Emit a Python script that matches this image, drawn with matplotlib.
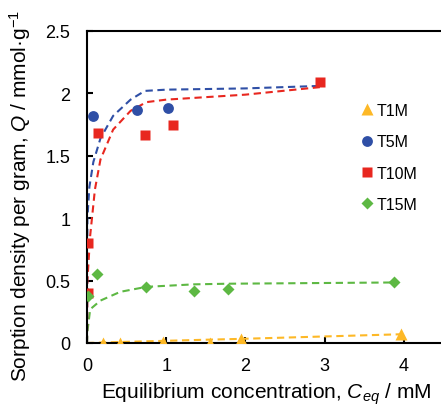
import matplotlib
matplotlib.use("Agg")
import matplotlib.pyplot as plt

plt.rcParams['font.family'] = ['Liberation Sans', 'DejaVu Sans']
plt.rcParams['mathtext.fontset'] = 'custom'
plt.rcParams['mathtext.rm'] = 'Liberation Sans'
plt.rcParams['mathtext.it'] = 'Liberation Sans:italic'

# ---- data ----
t1_x = [0.2, 0.42, 0.96, 1.55, 1.94, 3.96]
t1_q = [0.0, 0.0, 0.01, 0.0, 0.03, 0.07]
t5_x = [0.07, 0.63, 1.02]
t5_q = [1.82, 1.87, 1.885]
t10_x = [0.01, 0.01, 0.135, 0.73, 1.08, 2.94]
t10_q = [0.80, 0.40, 1.68, 1.67, 1.75, 2.09]
t15_x = [0.01, 0.12, 0.75, 1.35, 1.78, 3.88]
t15_q = [0.38, 0.555, 0.445, 0.42, 0.435, 0.485]

fit1_x = [0, 0.2, 0.42, 0.96, 1.55, 1.94, 3.96]
fit1_q = [0, 0.004, 0.008, 0.017, 0.027, 0.033, 0.07]
fit5_x = [0, 0.005, 0.03, 0.08, 0.17, 0.33, 0.55, 0.73, 1.0, 2.0, 2.94]
fit5_q = [0, 1.0, 1.25, 1.45, 1.64, 1.82, 1.95, 2.02, 2.03, 2.04, 2.06]
fit10_x = [0, 0.005, 0.04, 0.1, 0.17, 0.33, 0.55, 0.75, 1.0, 2.0, 2.94]
fit10_q = [0, 0.5, 0.86, 1.23, 1.47, 1.71, 1.86, 1.93, 1.95, 1.99, 2.05]
fit15_x = [0, 0.005, 0.04, 0.17, 0.42, 0.75, 1.35, 1.78, 3.88]
fit15_q = [0, 0.09, 0.27, 0.34, 0.41, 0.45, 0.47, 0.475, 0.485]

x_ticks = [0, 1, 2, 3, 4]
y_ticks = [0, 0.5, 1, 1.5, 2, 2.5]
y_ticklabels = ['0', '0.5', '1', '1.5', '2', '2.5']

c_y = '#FDB826'
c_b = '#2F4FA6'
c_r = '#E8271F'
c_g = '#5DB843'

W, H = 441, 406
fig = plt.figure(figsize=(W / 100, H / 100), dpi=100)
ax_w = 4.5 * 79.2
ax = fig.add_axes([87 / W, 62 / H, ax_w / W, 312 / H])

dash = (3.5, 2.2)
ax.plot(fit1_x, fit1_q, color=c_y, lw=1.5, dashes=dash, zorder=2)
ax.plot(fit15_x, fit15_q, color=c_g, lw=1.5, dashes=dash, zorder=2)
ax.plot(fit5_x, fit5_q, color=c_b, lw=1.5, dashes=dash, zorder=2)
ax.plot(fit10_x, fit10_q, color=c_r, lw=1.5, dashes=dash, zorder=2)

ax.plot(t1_x, t1_q, ls='none', marker='^', ms=9, color=c_y, mec='none', label='T1M', zorder=3)
ax.plot(t5_x, t5_q, ls='none', marker='o', ms=7.8, color=c_b, mec='none', label='T5M', zorder=3)
ax.plot(t10_x, t10_q, ls='none', marker='s', ms=7.6, color=c_r, mec='none', label='T10M', zorder=3)
ax.plot(t15_x, t15_q, ls='none', marker='D', ms=6.2, color=c_g, mec='none', label='T15M', zorder=3)

ax.set_xlim(0, 4.5)
ax.set_ylim(0, 2.5)
ax.set_xticks(x_ticks)
ax.set_xticklabels([str(v) for v in x_ticks])
ax.set_yticks(y_ticks)
ax.set_yticklabels(y_ticklabels)
ax.tick_params(direction='in', length=4, width=1.5, labelsize=13, colors='black')
ax.tick_params(axis='y', pad=12)
ax.tick_params(axis='x', pad=10)
for s in ['left', 'bottom', 'top', 'right']:
    ax.spines[s].set_linewidth(1.5)
    ax.spines[s].set_color('black')

fig.text(20 / W, 1 - 196 / H, r'Sorption density per gram, $\mathit{Q}$ / mmol·g$^{-1}$',
         rotation=90, ha='center', va='center', fontsize=15)
fig.text(266 / W, 7 / H, r'Equilibrium concentration, $\mathit{C}_{\mathit{eq}}$ / mM',
         ha='center', va='baseline', fontsize=15)

fig.legend(loc='upper left', bbox_to_anchor=(361 / W, 1 - 104 / H), frameon=False,
           fontsize=11.5, handlelength=0.8, handletextpad=0.2, labelspacing=1.02,
           borderpad=0, borderaxespad=0)

fig.savefig('out.png', dpi=100)
